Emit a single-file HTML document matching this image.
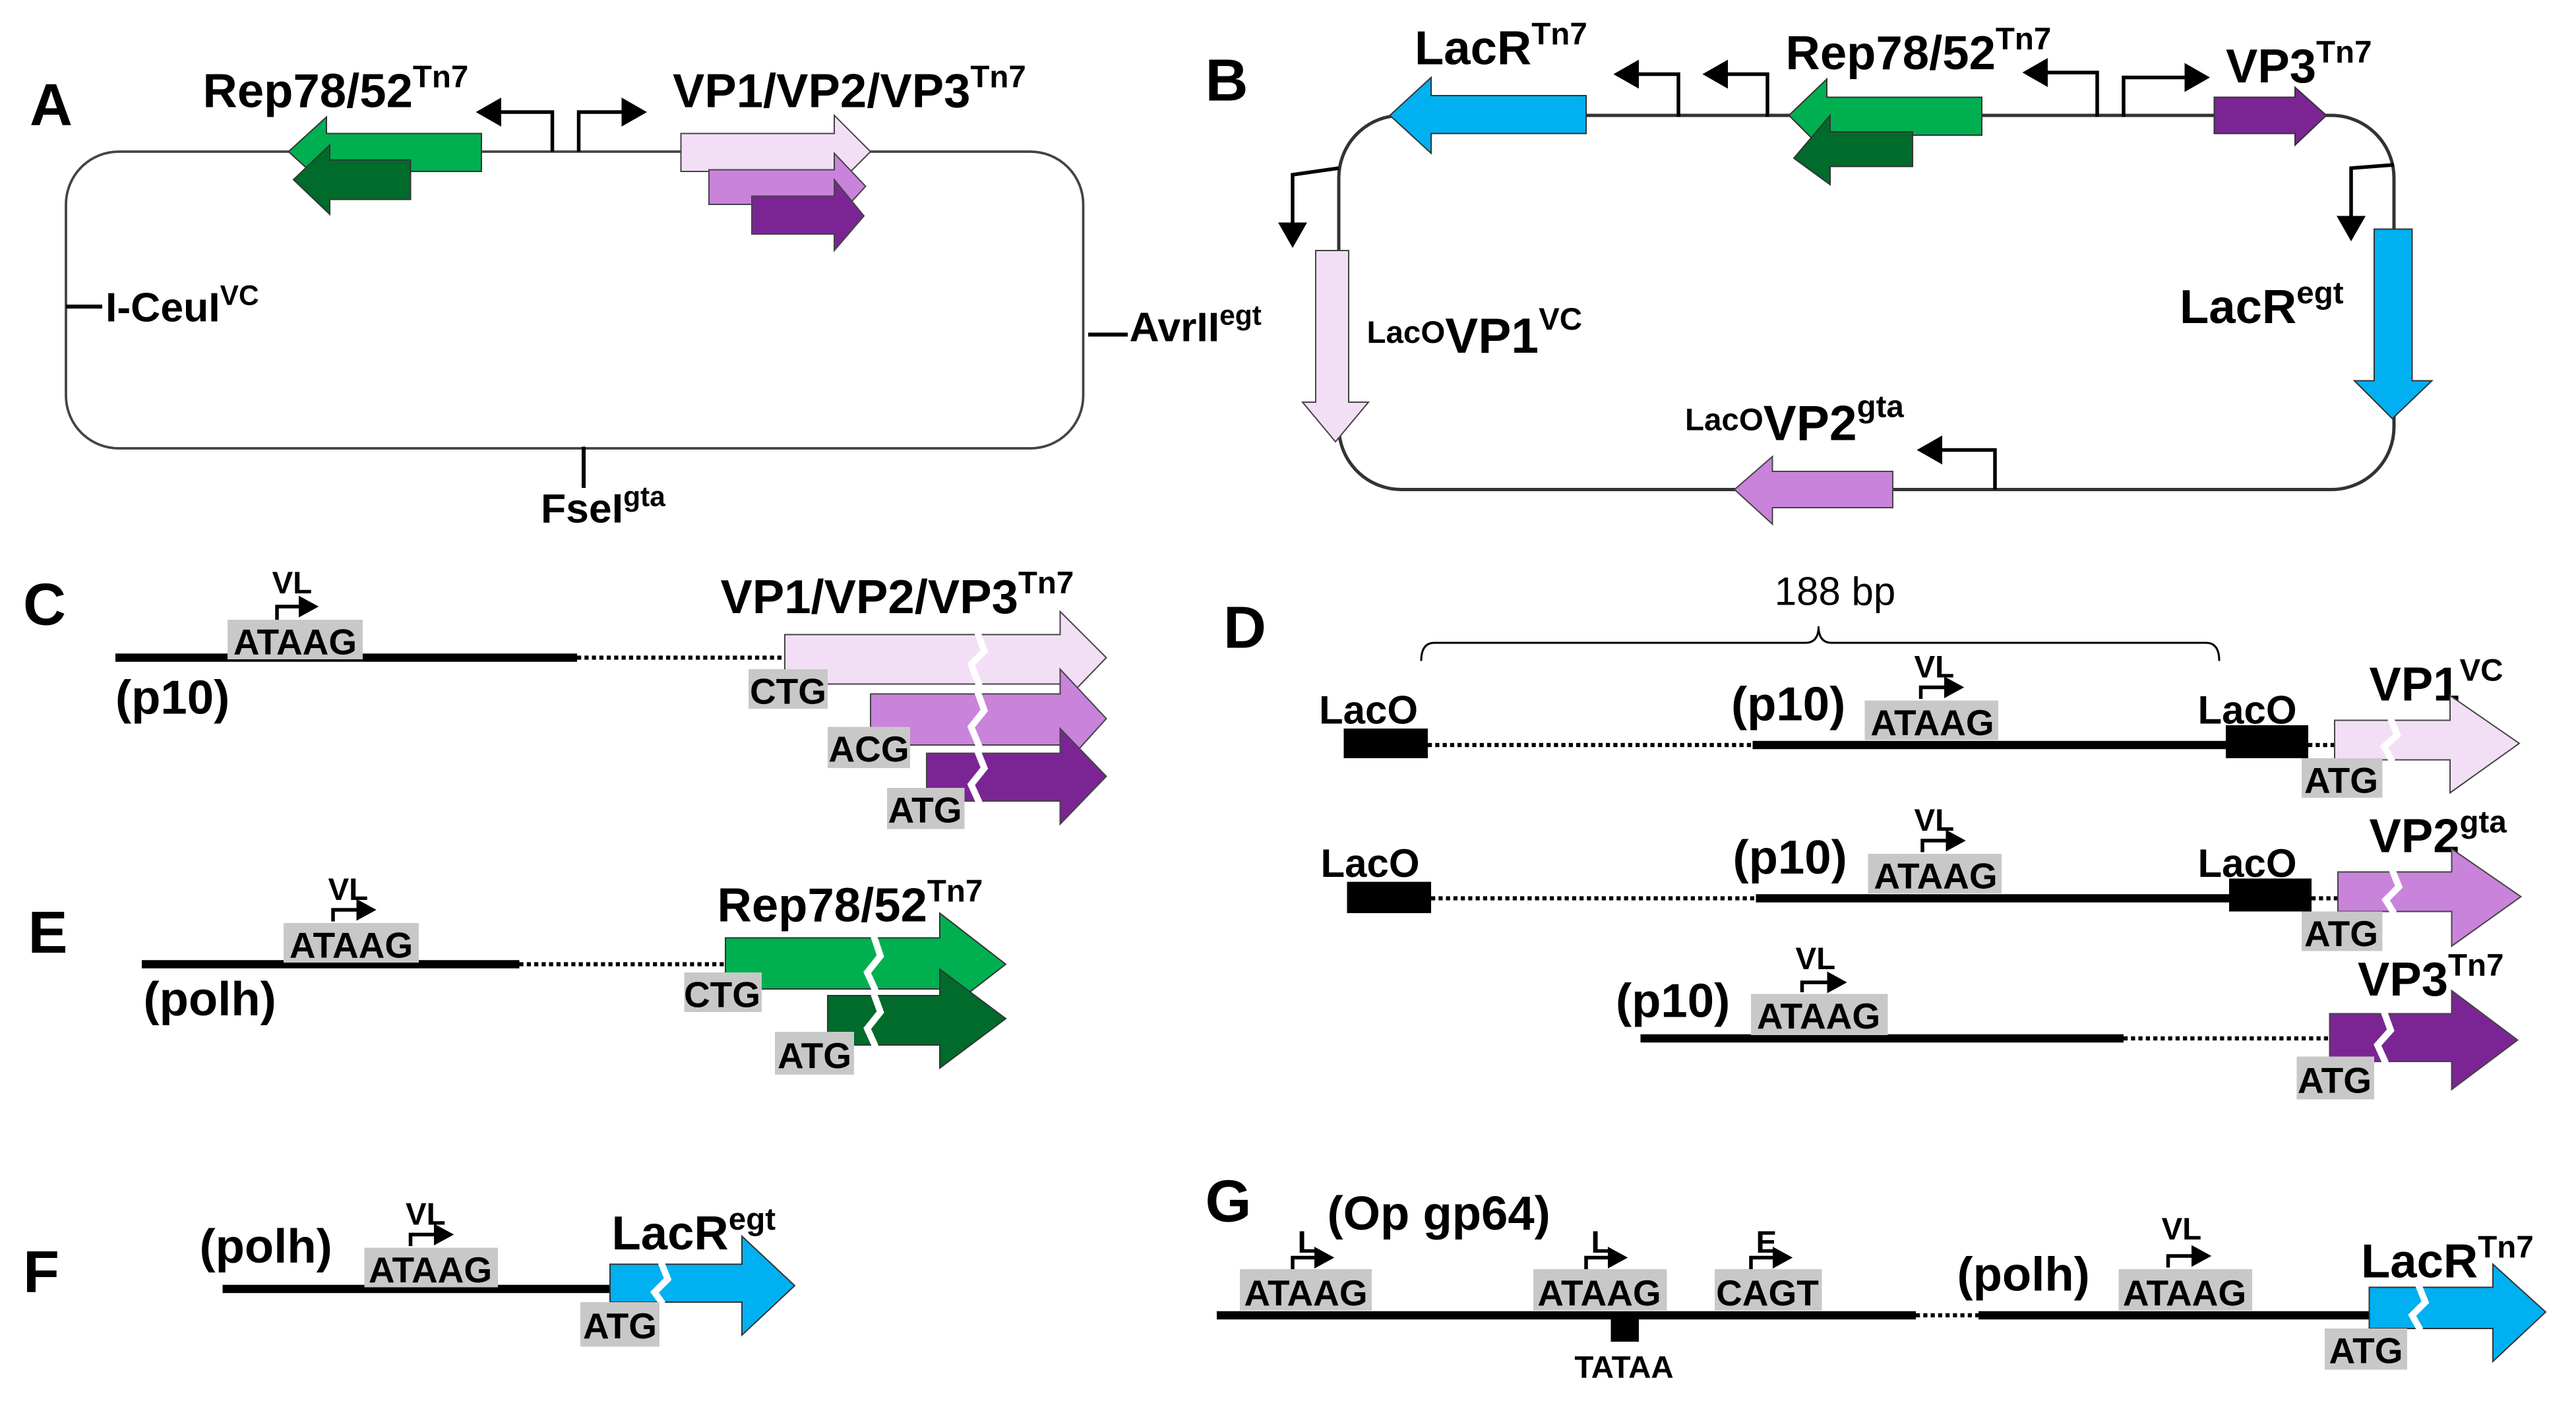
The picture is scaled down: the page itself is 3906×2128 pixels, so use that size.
<!DOCTYPE html>
<html><head><meta charset="utf-8"><style>
html,body{margin:0;padding:0;background:#fff;}
svg{display:block;}
text{font-family:"Liberation Sans",Arial,sans-serif;font-weight:bold;fill:#000;}
</style></head><body>
<svg width="3906" height="2128" viewBox="0 0 1562.4 851.2" xmlns="http://www.w3.org/2000/svg">
<defs>
<marker id="ah" markerWidth="8" markerHeight="8" refX="5" refY="4" orient="auto" markerUnits="strokeWidth">
<path d="M0,0 L7,4 L0,8 z" fill="#000"/></marker>
<marker id="sh" markerWidth="6" markerHeight="6" refX="4" refY="3" orient="auto" markerUnits="strokeWidth">
<path d="M0,0 L5.5,3 L0,6 z" fill="#000"/></marker>
</defs>
<rect width="1562.4" height="851.2" fill="#fff"/>

<!-- ===== Panel A ===== -->
<text x="18" y="76" font-size="36">A</text>
<rect x="40" y="92" width="617" height="180" rx="32" fill="none" stroke="#444" stroke-width="1.5"/>
<text x="123" y="65" font-size="29">Rep78/52<tspan font-size="19" dy="-12">Tn7</tspan></text>
<text x="408" y="65" font-size="29">VP1/VP2/VP3<tspan font-size="19" dy="-12">Tn7</tspan></text>
<polygon points="292,81 198,81 198,71 175,92 198,113 198,104 292,104" fill="#00b050" stroke="#333" stroke-width="0.8"/>
<polygon points="249,97 200,97 200,88 178,109 200,130 200,121 249,121" fill="#006b2a" stroke="#333" stroke-width="0.8"/>
<polyline points="335,92 335,68 293,68" fill="none" stroke="#000" stroke-width="2.2" marker-end="url(#ah)"/>
<polyline points="351,92 351,68 388,68" fill="none" stroke="#000" stroke-width="2.2" marker-end="url(#ah)"/>
<polygon points="413,81 506,81 506,70 528,92 506,114 506,104 413,104" fill="#f2dff5" stroke="#444" stroke-width="0.8"/>
<polygon points="430,103 506,103 506,93 525,113 506,134 506,124 430,124" fill="#c983db" stroke="#444" stroke-width="0.8"/>
<polygon points="456,119 506,119 506,109 524,131 506,152 506,142 456,142" fill="#7b2594" stroke="#444" stroke-width="0.8"/>
<line x1="40" y1="186" x2="62" y2="186" stroke="#000" stroke-width="2.4"/>
<text x="64" y="195" font-size="25">I-CeuI<tspan font-size="17" dy="-10">VC</tspan></text>
<line x1="660" y1="203" x2="684" y2="203" stroke="#000" stroke-width="2.4"/>
<text x="685" y="207" font-size="25">AvrII<tspan font-size="17" dy="-10">egt</tspan></text>
<line x1="354" y1="271" x2="354" y2="296" stroke="#000" stroke-width="2.4"/>
<text x="328" y="317" font-size="25">FseI<tspan font-size="17" dy="-10">gta</tspan></text>

<!-- ===== Panel B ===== -->
<text x="731" y="61" font-size="36">B</text>
<rect x="812" y="70" width="640" height="227" rx="38" fill="none" stroke="#333" stroke-width="2"/>
<text x="858" y="39" font-size="29">LacR<tspan font-size="19" dy="-12">Tn7</tspan></text>
<text x="1083" y="42" font-size="29">Rep78/52<tspan font-size="19" dy="-12">Tn7</tspan></text>
<text x="1350" y="50" font-size="29">VP3<tspan font-size="19" dy="-12">Tn7</tspan></text>
<polygon points="962,58 868,58 868,47 843,70 868,93 868,81 962,81" fill="#00b0f0" stroke="#333" stroke-width="0.8"/>
<polyline points="1018,71 1018,45 983,45" fill="none" stroke="#000" stroke-width="2.2" marker-end="url(#ah)"/>
<polyline points="1072,71 1072,45 1037,45" fill="none" stroke="#000" stroke-width="2.2" marker-end="url(#ah)"/>
<polygon points="1202,59 1108,59 1108,48 1085,70 1108,93 1108,82 1202,82" fill="#00b050" stroke="#333" stroke-width="0.8"/>
<polygon points="1160,80 1110,80 1110,70 1088,96 1110,112 1110,101 1160,101" fill="#006b2a" stroke="#333" stroke-width="0.8"/>
<polyline points="1272,71 1272,44 1231,44" fill="none" stroke="#000" stroke-width="2.2" marker-end="url(#ah)"/>
<polyline points="1288,71 1288,47 1336,47" fill="none" stroke="#000" stroke-width="2.2" marker-end="url(#ah)"/>
<polygon points="1343,59 1392,59 1392,53 1411,70 1392,88 1392,81 1343,81" fill="#7b2594" stroke="#333" stroke-width="0.8"/>
<polyline points="812,102 784,106 784,146" fill="none" stroke="#000" stroke-width="2.2" marker-end="url(#ah)"/>
<polygon points="798,152 818,152 818,244 830,244 810,268 790,244 798,244" fill="#f2dff5" stroke="#444" stroke-width="0.8"/>
<text x="829" y="208" font-size="19">LacO<tspan font-size="30" dy="6">VP1</tspan><tspan font-size="19" dy="-14">VC</tspan></text>
<polyline points="1452,100 1426,102 1426,142" fill="none" stroke="#000" stroke-width="2.2" marker-end="url(#ah)"/>
<polygon points="1440,139 1463,139 1463,231 1475,231 1451,254 1428,231 1440,231" fill="#00b0f0" stroke="#333" stroke-width="0.8"/>
<text x="1322" y="196" font-size="29">LacR<tspan font-size="19" dy="-12">egt</tspan></text>
<polygon points="1148,286 1075,286 1075,277 1052,297 1075,318 1075,308 1148,308" fill="#c983db" stroke="#444" stroke-width="0.8"/>
<polyline points="1210,297 1210,273 1167,273" fill="none" stroke="#000" stroke-width="2.2" marker-end="url(#ah)"/>
<text x="1022" y="261" font-size="19">LacO<tspan font-size="30" dy="6">VP2</tspan><tspan font-size="19" dy="-14">gta</tspan></text>

<!-- ===== Panel C ===== -->
<text x="14" y="379" font-size="36">C</text>
<line x1="70" y1="399" x2="350" y2="399" stroke="#000" stroke-width="5"/>
<line x1="350" y1="399" x2="477" y2="399" stroke="#000" stroke-width="2.5" stroke-dasharray="2.5,2"/>
<rect x="138" y="376" width="82" height="24" fill="#c8c8c8"/>
<text x="179" y="397" font-size="22" text-anchor="middle">ATAAG</text>
<text x="165" y="360" font-size="19">VL</text>
<polyline points="168,376 168,368 190,368" fill="none" stroke="#000" stroke-width="2.2" marker-end="url(#sh)"/>
<text x="70" y="433" font-size="29">(p10)</text>
<text x="437" y="372" font-size="29">VP1/VP2/VP3<tspan font-size="19" dy="-12">Tn7</tspan></text>
<polygon points="476,385 643,385 643,371 671,399 643,428 643,415 476,415" fill="#f2dff5" stroke="#444" stroke-width="0.8"/>
<polyline points="593,384 597,395 589,403 594,416" fill="none" stroke="#fff" stroke-width="4"/>
<polygon points="528,421 643,421 643,406 671,436 643,467 643,452 528,452" fill="#c983db" stroke="#444" stroke-width="0.8"/>
<polyline points="593,420 597,431 589,441 594,453" fill="none" stroke="#fff" stroke-width="4"/>
<polygon points="562,457 643,457 643,442 671,471 643,500 643,486 562,486" fill="#7b2594" stroke="#444" stroke-width="0.8"/>
<polyline points="593,456 597,466 589,476 594,487" fill="none" stroke="#fff" stroke-width="4"/>
<rect x="454" y="406" width="48" height="24" fill="#c8c8c8"/>
<text x="478" y="427" font-size="22" text-anchor="middle">CTG</text>
<rect x="502" y="441" width="50" height="25" fill="#c8c8c8"/>
<text x="527" y="462" font-size="22" text-anchor="middle">ACG</text>
<rect x="538" y="478" width="47" height="25" fill="#c8c8c8"/>
<text x="561" y="499" font-size="22" text-anchor="middle">ATG</text>

<!-- ===== Panel E ===== -->
<text x="17" y="578" font-size="36">E</text>
<line x1="86" y1="585" x2="315" y2="585" stroke="#000" stroke-width="5"/>
<line x1="315" y1="585" x2="440" y2="585" stroke="#000" stroke-width="2.5" stroke-dasharray="2.5,2"/>
<rect x="172" y="560" width="82" height="24" fill="#c8c8c8"/>
<text x="213" y="581" font-size="22" text-anchor="middle">ATAAG</text>
<text x="199" y="546" font-size="19">VL</text>
<polyline points="202,559 202,552 225,552" fill="none" stroke="#000" stroke-width="2.2" marker-end="url(#sh)"/>
<text x="87" y="616" font-size="29">(polh)</text>
<text x="435" y="559" font-size="29">Rep78/52<tspan font-size="19" dy="-12">Tn7</tspan></text>
<polygon points="440,569 570,569 570,554 610,585 570,616 570,600 440,600" fill="#00b050" stroke="#333" stroke-width="0.8"/>
<polyline points="530,568 534,580 526,590 531,601" fill="none" stroke="#fff" stroke-width="4"/>
<polygon points="502,604 570,604 570,588 610,618 570,648 570,634 502,634" fill="#006b2a" stroke="#333" stroke-width="0.8"/>
<polyline points="530,603 534,614 526,624 531,635" fill="none" stroke="#fff" stroke-width="4"/>
<rect x="415" y="590" width="47" height="24" fill="#c8c8c8"/>
<text x="438" y="611" font-size="22" text-anchor="middle">CTG</text>
<rect x="470" y="626" width="48" height="26" fill="#c8c8c8"/>
<text x="494" y="648" font-size="22" text-anchor="middle">ATG</text>

<!-- ===== Panel F ===== -->
<text x="14" y="784" font-size="36">F</text>
<line x1="135" y1="782" x2="370" y2="782" stroke="#000" stroke-width="5"/>
<rect x="221" y="757" width="81" height="24" fill="#c8c8c8"/>
<text x="261" y="778" font-size="22" text-anchor="middle">ATAAG</text>
<text x="246" y="743" font-size="19">VL</text>
<polyline points="249,756 249,749 272,749" fill="none" stroke="#000" stroke-width="2.2" marker-end="url(#sh)"/>
<text x="121" y="766" font-size="29">(polh)</text>
<text x="371" y="758" font-size="29">LacR<tspan font-size="19" dy="-12">egt</tspan></text>
<polygon points="370,767 450,767 450,750 482,780 450,810 450,790 370,790" fill="#00b0f0" stroke="#333" stroke-width="0.8"/>
<polyline points="401,766 405,776 397,784 402,791" fill="none" stroke="#fff" stroke-width="4"/>
<rect x="352" y="790" width="48" height="27" fill="#c8c8c8"/>
<text x="376" y="812" font-size="22" text-anchor="middle">ATG</text>

<!-- ===== Panel D ===== -->
<text x="742" y="393" font-size="36">D</text>
<text x="1113" y="367" font-size="24" style="font-weight:normal" text-anchor="middle">188 bp</text>
<path d="M862,401 Q862,390 870,390 L1095,390 Q1103,390 1103,380 Q1103,390 1111,390 L1338,390 Q1346,390 1346,401" fill="none" stroke="#000" stroke-width="1.2"/>
<text x="800" y="439" font-size="24">LacO</text>
<rect x="815" y="442" width="51" height="18" fill="#000"/>
<line x1="866" y1="452" x2="1063" y2="452" stroke="#000" stroke-width="2.5" stroke-dasharray="2.5,2"/>
<line x1="1063" y1="452" x2="1352" y2="452" stroke="#000" stroke-width="5"/>
<rect x="1350" y="440" width="50" height="20" fill="#000"/>
<line x1="1400" y1="452" x2="1418" y2="452" stroke="#000" stroke-width="2.5" stroke-dasharray="2.5,2"/>
<text x="1050" y="437" font-size="29">(p10)</text>
<rect x="1131" y="425" width="81" height="24" fill="#c8c8c8"/>
<text x="1172" y="446" font-size="22" text-anchor="middle">ATAAG</text>
<text x="1161" y="411" font-size="19">VL</text>
<polyline points="1165,424 1165,417 1188,417" fill="none" stroke="#000" stroke-width="2.2" marker-end="url(#sh)"/>
<text x="1333" y="439" font-size="24">LacO</text>
<text x="1437" y="425" font-size="29">VP1<tspan font-size="19" dy="-12">VC</tspan></text>
<polygon points="1416,437 1486,437 1486,422 1528,451 1486,481 1486,461 1416,461" fill="#f2dff5" stroke="#444" stroke-width="0.8"/>
<polyline points="1450,436 1454,446 1446,453 1451,462" fill="none" stroke="#fff" stroke-width="4"/>
<rect x="1396" y="460" width="49" height="24" fill="#c8c8c8"/>
<text x="1420" y="481" font-size="22" text-anchor="middle">ATG</text>
<text x="801" y="532" font-size="24">LacO</text>
<rect x="817" y="535" width="51" height="19" fill="#000"/>
<line x1="868" y1="545" x2="1065" y2="545" stroke="#000" stroke-width="2.5" stroke-dasharray="2.5,2"/>
<line x1="1065" y1="545" x2="1354" y2="545" stroke="#000" stroke-width="5"/>
<rect x="1352" y="533" width="50" height="20" fill="#000"/>
<line x1="1402" y1="545" x2="1420" y2="545" stroke="#000" stroke-width="2.5" stroke-dasharray="2.5,2"/>
<text x="1051" y="530" font-size="29">(p10)</text>
<rect x="1133" y="518" width="81" height="24" fill="#c8c8c8"/>
<text x="1174" y="539" font-size="22" text-anchor="middle">ATAAG</text>
<text x="1161" y="504" font-size="19">VL</text>
<polyline points="1166,517 1166,510 1189,510" fill="none" stroke="#000" stroke-width="2.2" marker-end="url(#sh)"/>
<text x="1333" y="532" font-size="24">LacO</text>
<text x="1437" y="517" font-size="29">VP2<tspan font-size="19" dy="-12">gta</tspan></text>
<polygon points="1418,529 1487,529 1487,515 1529,544 1487,574 1487,553 1418,553" fill="#c983db" stroke="#444" stroke-width="0.8"/>
<polyline points="1451,528 1455,538 1447,546 1452,554" fill="none" stroke="#fff" stroke-width="4"/>
<rect x="1396" y="553" width="49" height="24" fill="#c8c8c8"/>
<text x="1420" y="574" font-size="22" text-anchor="middle">ATG</text>
<line x1="995" y1="630" x2="1288" y2="630" stroke="#000" stroke-width="5"/>
<line x1="1288" y1="630" x2="1414" y2="630" stroke="#000" stroke-width="2.5" stroke-dasharray="2.5,2"/>
<text x="980" y="617" font-size="29">(p10)</text>
<rect x="1062" y="603" width="83" height="25" fill="#c8c8c8"/>
<text x="1103" y="624" font-size="22" text-anchor="middle">ATAAG</text>
<text x="1089" y="588" font-size="19">VL</text>
<polyline points="1093,602 1093,596 1117,596" fill="none" stroke="#000" stroke-width="2.2" marker-end="url(#sh)"/>
<text x="1430" y="604" font-size="29">VP3<tspan font-size="19" dy="-12">Tn7</tspan></text>
<polygon points="1413,615 1487,615 1487,601 1527,631 1487,661 1487,644 1413,644" fill="#7b2594" stroke="#444" stroke-width="0.8"/>
<polyline points="1446,614 1450,625 1442,634 1447,645" fill="none" stroke="#fff" stroke-width="4"/>
<rect x="1393" y="641" width="47" height="26" fill="#c8c8c8"/>
<text x="1416" y="663" font-size="22" text-anchor="middle">ATG</text>

<!-- ===== Panel G ===== -->
<text x="731" y="741" font-size="36">G</text>
<line x1="738" y1="798" x2="1162" y2="798" stroke="#000" stroke-width="5"/>
<line x1="1162" y1="798" x2="1200" y2="798" stroke="#000" stroke-width="2.5" stroke-dasharray="2.5,2"/>
<line x1="1200" y1="798" x2="1438" y2="798" stroke="#000" stroke-width="5"/>
<text x="805" y="746" font-size="29">(Op gp64)</text>
<rect x="752" y="770" width="80" height="25" fill="#c8c8c8"/>
<text x="792" y="792" font-size="22" text-anchor="middle">ATAAG</text>
<text x="787" y="760" font-size="19">L</text>
<polyline points="784,770 784,763 806,763" fill="none" stroke="#000" stroke-width="2.2" marker-end="url(#sh)"/>
<rect x="930" y="770" width="81" height="25" fill="#c8c8c8"/>
<text x="970" y="792" font-size="22" text-anchor="middle">ATAAG</text>
<text x="965" y="760" font-size="19">L</text>
<polyline points="962,770 962,763 984,763" fill="none" stroke="#000" stroke-width="2.2" marker-end="url(#sh)"/>
<rect x="1040" y="770" width="65" height="25" fill="#c8c8c8"/>
<text x="1072" y="792" font-size="22" text-anchor="middle">CAGT</text>
<text x="1065" y="760" font-size="19">E</text>
<polyline points="1062,770 1062,763 1084,763" fill="none" stroke="#000" stroke-width="2.2" marker-end="url(#sh)"/>
<rect x="977" y="798" width="17" height="16" fill="#000"/>
<text x="985" y="836" font-size="19" text-anchor="middle">TATAA</text>
<text x="1187" y="783" font-size="29">(polh)</text>
<rect x="1285" y="770" width="81" height="25" fill="#c8c8c8"/>
<text x="1325" y="792" font-size="22" text-anchor="middle">ATAAG</text>
<text x="1311" y="752" font-size="19">VL</text>
<polyline points="1315,769 1315,762 1338,762" fill="none" stroke="#000" stroke-width="2.2" marker-end="url(#sh)"/>
<text x="1432" y="775" font-size="29">LacR<tspan font-size="19" dy="-12">Tn7</tspan></text>
<polygon points="1437,781 1512,781 1512,767 1544,796 1512,826 1512,806 1437,806" fill="#00b0f0" stroke="#333" stroke-width="0.8"/>
<polyline points="1467,780 1471,790 1463,798 1468,807" fill="none" stroke="#fff" stroke-width="4"/>
<rect x="1410" y="806" width="50" height="25" fill="#c8c8c8"/>
<text x="1435" y="827" font-size="22" text-anchor="middle">ATG</text>
</svg>
</body></html>
